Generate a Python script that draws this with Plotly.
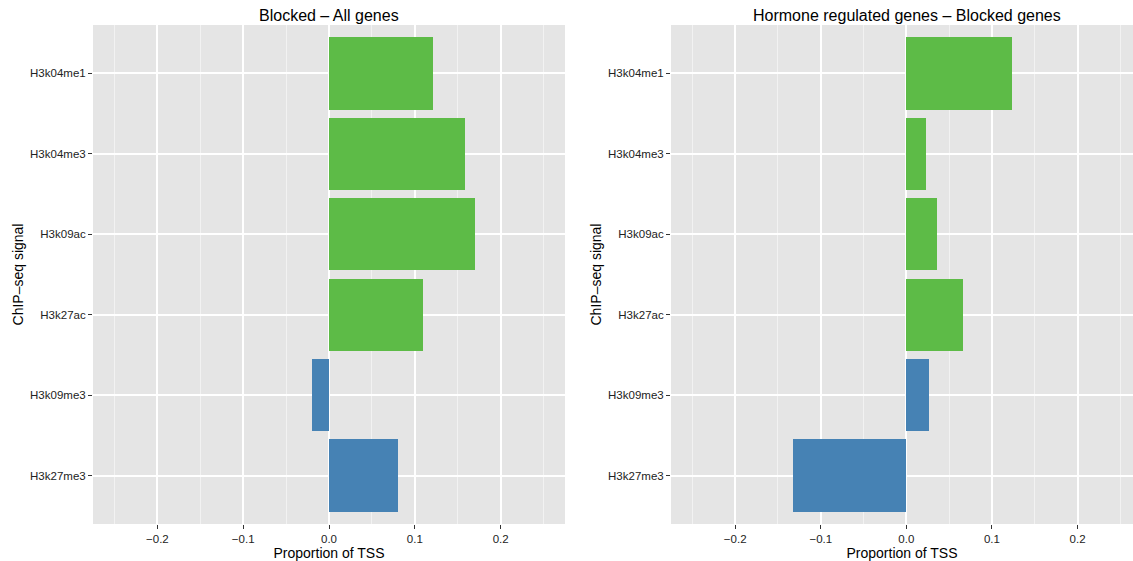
import plotly.graph_objects as go

signals = ["H3k04me1", "H3k04me3", "H3k09ac", "H3k27ac", "H3k09me3", "H3k27me3"]
mark_type = ["active", "active", "active", "active", "repressive", "repressive"]
blocked_all = [0.121, 0.158, 0.170, 0.109, -0.020, 0.080]
hormone_blocked = [0.123, 0.023, 0.036, 0.066, 0.027, -0.132]

panel_titles = ["Blocked \u2013 All genes", "Hormone regulated genes \u2013 Blocked genes"]
x_tickvals = [-0.2, -0.1, 0.0, 0.1, 0.2]
x_ticktext = ["\u22120.2", "\u22120.1", "0.0", "0.1", "0.2"]
colors = {"active": "#5DBB47", "repressive": "#4682B4"}

FONT = "Liberation Sans, Arial, Helvetica, sans-serif"
cat_order = signals[::-1]

fig = go.Figure()
for i, vals in enumerate([blocked_all, hormone_blocked]):
    ax = "" if i == 0 else "2"
    fig.add_trace(go.Bar(
        x=vals, y=signals, orientation="h", width=0.9,
        marker=dict(color=[colors[t] for t in mark_type], line=dict(width=0)),
        xaxis="x" + ax, yaxis="y" + ax, showlegend=False,
        hoverinfo="x+y",
    ))

domains = [[93 / 1133, 565 / 1133], [671 / 1133, 1.0]]
ranges = [[-0.275, 0.275], [-0.275, 0.2648]]
ydom = [1 - 524 / 561, 1 - 25 / 561]

layout = dict(
    width=1133, height=561,
    margin=dict(l=0, r=0, t=0, b=0),
    paper_bgcolor="white", plot_bgcolor="#E5E5E5",
    font=dict(family=FONT, color="#000000"),
    bargap=0,
    annotations=[],
)
for i in range(2):
    ax = "" if i == 0 else "2"
    layout["xaxis" + ax] = dict(
        domain=domains[i], range=ranges[i], anchor="y" + ax,
        tickvals=x_tickvals, ticktext=x_ticktext,
        showgrid=True, gridcolor="white", gridwidth=1.6,
        zeroline=False, showline=False,
        ticks="outside", ticklen=4, tickcolor="#333333", tickwidth=1,
        tickfont=dict(size=11.5, color="#222222", family=FONT),
        minor=dict(tick0=0.05, dtick=0.1, showgrid=True, gridcolor="#F2F2F2", gridwidth=0.6, ticks=""),
        title=dict(text="Proportion of TSS", font=dict(size=14, family=FONT), standoff=1),
        fixedrange=True,
    )
    layout["yaxis" + ax] = dict(
        domain=ydom, anchor="x" + ax,
        type="category", categoryorder="array", categoryarray=cat_order,
        range=[-0.6, 5.6],
        showgrid=True, gridcolor="white", gridwidth=1.6,
        zeroline=False, showline=False,
        ticks="outside", ticklen=4, tickcolor="#333333", tickwidth=1,
        tickfont=dict(size=11.5, color="#222222", family=FONT),
        title=dict(text="ChIP\u2013seq signal", font=dict(size=14, family=FONT), standoff=3),
        fixedrange=True,
    )
    layout["annotations"].append(dict(
        text=panel_titles[i], xref="paper", yref="paper",
        x=(93 + 565) / 2 / 1133 if i == 0 else (671 + 1143) / 2 / 1133,
        y=1 - 26 / 561, xanchor="center", yanchor="bottom",
        showarrow=False, font=dict(size=16, family=FONT, color="#000000"),
    ))

fig.update_layout(**layout)
fig.write_html("out.html", config={"displayModeBar": False},
               post_script="document.body.style.margin='0';document.body.style.overflow='hidden';")
